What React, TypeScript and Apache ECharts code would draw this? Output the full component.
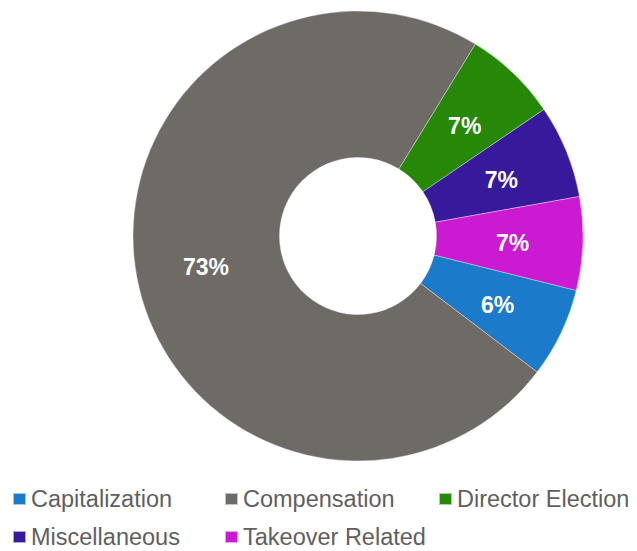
import React, { useEffect, useRef } from "react";
import * as echarts from "echarts";

const categories = ["Capitalization", "Compensation", "Director Election", "Miscellaneous", "Takeover Related"];
const values = [6.45, 73.4, 6.75, 6.7, 6.7];
const colors = ["#1b7bca", "#6e6a65", "#268806", "#37199b", "#cc1ad3"];
const legendPos = [
  { left: 12, top: 487 },
  { left: 224, top: 487 },
  { left: 438, top: 487 },
  { left: 12, top: 525 },
  { left: 224, top: 525 },
];

export default function App() {
  const ref = useRef<HTMLDivElement>(null);
  useEffect(() => {
    if (!ref.current) return;
    const chart = echarts.init(ref.current, null, { renderer: "svg" });
    chart.setOption({
      animation: false,
      backgroundColor: "#ffffff",
      legend: categories.map((c, i) => ({
        data: [c],
        left: legendPos[i].left,
        top: legendPos[i].top,
        icon: "rect",
        itemWidth: 13,
        itemHeight: 12,
        padding: 0,
        selectedMode: false,
        textStyle: {
          fontFamily: "Liberation Sans, Arial, sans-serif",
          fontSize: 23.5,
          lineHeight: 16,
          color: "#5f5f5f",
        },
      })),
      series: [
        {
          type: "pie",
          center: [358, 236],
          radius: [78.5, 225],
          startAngle: -14,
          clockwise: true,
          avoidLabelOverlap: false,
          data: categories.map((c, i) => ({
            name: c,
            value: values[i],
            itemStyle: { color: colors[i] },
          })),
          itemStyle: { borderColor: "rgba(255,255,255,0.6)", borderWidth: 0.6 },
          label: {
            show: true,
            position: "inside",
            formatter: (p: any) => Math.round(p.percent) + "%",
            color: "#ffffff",
            fontFamily: "Liberation Sans, Arial, sans-serif",
            fontWeight: "bold",
            fontSize: 23,
            offset: [0, 2],
          },
          labelLine: { show: false },
          emphasis: { disabled: true },
        },
      ],
    });
    return () => chart.dispose();
  }, []);
  return <div ref={ref} style={{ width: 637, height: 551, position: "absolute", left: 0, top: 0 }} />;
}
